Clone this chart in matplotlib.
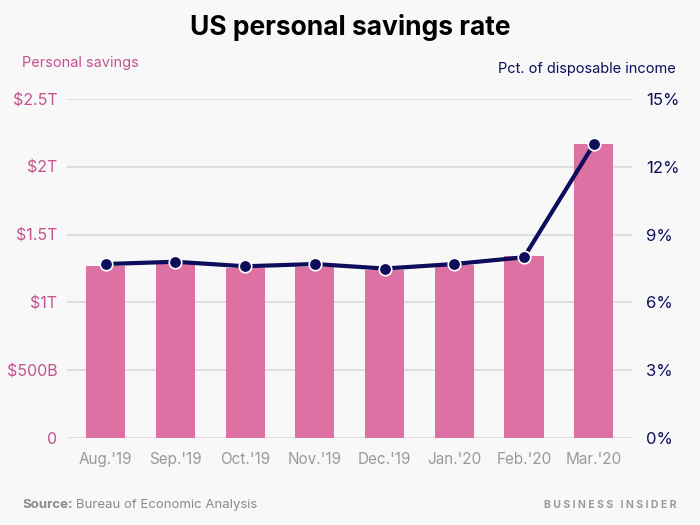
import matplotlib
matplotlib.use("Agg")
import matplotlib.pyplot as plt
from matplotlib.ticker import FuncFormatter

plt.rcParams['font.family'] = ['Inter', 'DejaVu Sans']

months = ["Aug.'19", "Sep.'19", "Oct.'19", "Nov.'19", "Dec.'19", "Jan.'20", "Feb.'20", "Mar.'20"]
savings_tn = [1.27, 1.285, 1.255, 1.265, 1.24, 1.275, 1.34, 2.17]   # trillions of dollars
rate_pct = [7.7, 7.8, 7.6, 7.7, 7.5, 7.7, 8.0, 13.0]
left_ticks = [0, 0.5, 1, 1.5, 2, 2.5]
left_labels = ["0", "$500B", "$1T", "$1.5T", "$2T", "$2.5T"]
right_ticks = [0, 3, 6, 9, 12, 15]

bg = "#f8f8f8"
pink = "#dd71a3"
navy = "#0d0d5c"
pinktxt = "#c4528e"

fig = plt.figure(figsize=(7, 5.25), dpi=100, facecolor=bg)
ax = fig.add_axes([0.096, 0.166, 0.807, 0.645], facecolor=bg)
x = range(len(months))
ax.bar(x, savings_tn, width=0.56, color=pink, zorder=2)
ax.set_ylim(0, 2.5)
ax.set_xlim(-0.55, 7.55)
ax.set_yticks(left_ticks)
ax.set_yticklabels(left_labels)
ax.grid(axis='y', color="#d9d9d9", linewidth=1.2, zorder=0)
for s in ax.spines.values():
    s.set_visible(False)
ax.tick_params(axis='y', length=0, colors=pinktxt, labelsize=11.5, pad=7)
ax.set_xticks(list(x))
ax.set_xticklabels(months)
ax.tick_params(axis='x', length=0, colors="#9a9a9a", labelsize=11, pad=10)

ax2 = ax.twinx()
ax2.plot(x, rate_pct, color=navy, linewidth=3, marker='o', markersize=9,
         markerfacecolor=navy, markeredgecolor='white', markeredgewidth=1.2, zorder=3)
ax2.set_ylim(0, 15)
ax2.set_yticks(right_ticks)
ax2.yaxis.set_major_formatter(FuncFormatter(lambda v, p: "%d%%" % v))
for s in ax2.spines.values():
    s.set_visible(False)
ax2.tick_params(axis='y', length=0, colors=navy, labelsize=12, pad=10)

fig.text(0.5, 0.948, "US personal savings rate", ha='center', va='center',
         fontsize=19, fontweight='bold', color='black')
fig.text(0.032, 0.88, "Personal savings", ha='left', va='center', fontsize=10.5, color=pinktxt)
fig.text(0.966, 0.868, "Pct. of disposable income", ha='right', va='center', fontsize=10.5, color=navy)

fig.text(0.032, 0.038, "Source:", ha='left', va='center', fontsize=9.5, fontweight='bold', color="#8a8a8a")
fig.text(0.109, 0.038, "Bureau of Economic Analysis", ha='left', va='center', fontsize=9.5, color="#8a8a8a")
fig.text(0.967, 0.038, "B U S I N E S S   I N S I D E R", ha='right', va='center', fontsize=7.5,
         fontweight='bold', color="#9a9a9a")

fig.savefig("out.png", dpi=100, facecolor=bg)
